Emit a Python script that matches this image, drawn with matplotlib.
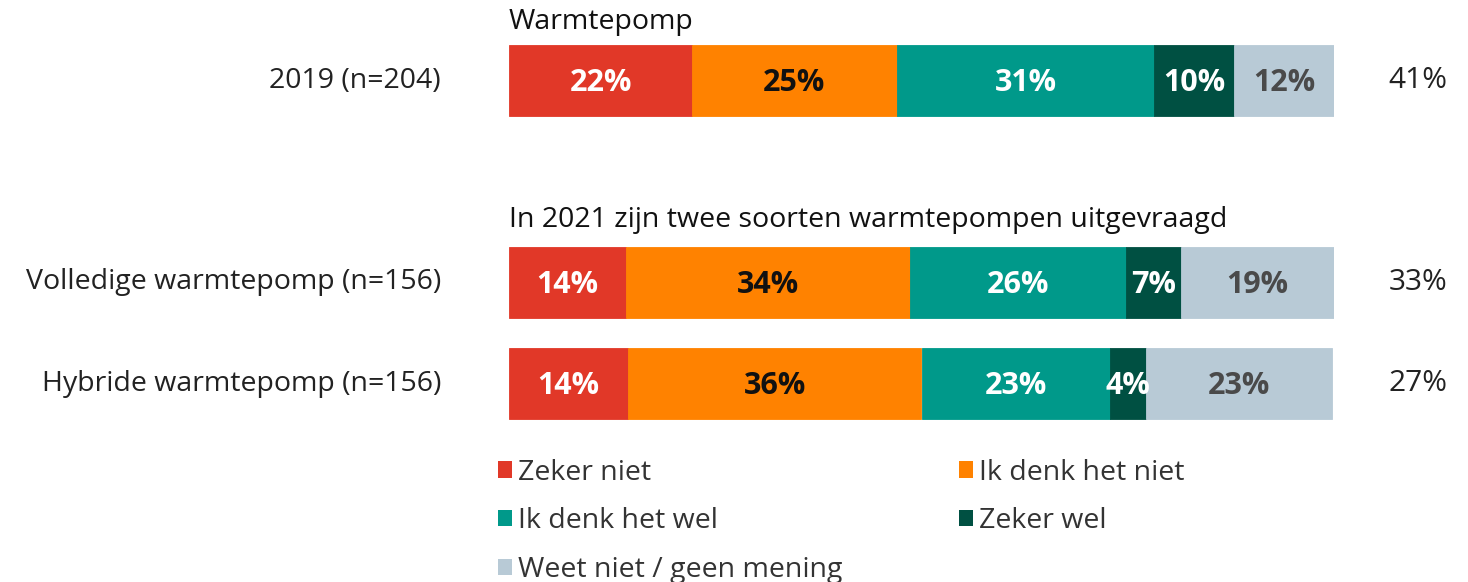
import matplotlib
matplotlib.use("Agg")
import matplotlib.pyplot as plt
from matplotlib.patches import Patch

plt.rcParams['font.family'] = ['Open Sans', 'DejaVu Sans']

rows = ["2019 (n=204)", "Volledige warmtepomp (n=156)", "Hybride warmtepomp (n=156)"]
categories = ["Zeker niet", "Ik denk het niet", "Ik denk het wel", "Zeker wel", "Weet niet / geen mening"]
zeker_niet = [22.2, 14.2, 14.4]
denk_niet = [24.8, 34.4, 35.6]
denk_wel = [31.2, 26.2, 22.8]
zeker_wel = [9.7, 6.6, 4.4]
weet_niet = [12.1, 18.7, 22.6]
totals = ["41%", "33%", "27%"]
titles = ["Warmtepomp", "In 2021 zijn twee soorten warmtepompen uitgevraagd"]

series = [zeker_niet, denk_niet, denk_wel, zeker_wel, weet_niet]
colors = ["#E13828", "#FF8200", "#00998A", "#005042", "#B8CAD6"]
text_colors = ["white", "#111111", "white", "white", "#4a4a4a"]

FS = 20.5
W, H = 1468, 582
fig = plt.figure(figsize=(W / 100, H / 100), dpi=100)
x0, x1 = 509, 1334
ax = fig.add_axes([x0 / W, 0, (x1 - x0) / W, 1])
unit = 101.0
ypos = [0, 2, 3]
ax.set_xlim(0, 100)
ax.set_ylim((H - 80.5) / unit, -80.5 / unit)
ax.axis("off")

bar_h = 71 / unit
lefts = [0, 0, 0]
for s, c, tc in zip(series, colors, text_colors):
    ax.barh(ypos, s, left=lefts, height=bar_h, color=c, edgecolor=c, linewidth=0.6)
    for y, v, l in zip(ypos, s, lefts):
        ax.text(l + v / 2, y + 0.02, f"{round(v)}%", ha="center", va="center", color=tc,
                fontsize=22, fontweight="bold")
    lefts = [a + b for a, b in zip(lefts, s)]

px = lambda p: (p - x0) / (x1 - x0) * 100
for y, lab, tot in zip(ypos, rows, totals):
    ax.text(px(441), y, lab, ha="right", va="center", fontsize=FS, color="#222222")
    ax.text(px(1447), y, tot, ha="right", va="center", fontsize=FS + 1, color="#222222")

ax.text(0, (22 - 80.5) / unit, titles[0], ha="left", va="center", fontsize=FS, color="#111111")
ax.text(0, (220 - 80.5) / unit, titles[1], ha="left", va="center", fontsize=FS, color="#111111")

order = [0, 2, 4, 1, 3]
handles = [Patch(facecolor=colors[i], edgecolor="none", label=categories[i]) for i in order]
leg = fig.legend(handles=handles, ncol=2, loc="upper left",
                 bbox_to_anchor=(472 / W, 1 - 433 / H), frameon=False,
                 fontsize=FS, handlelength=0.5, handleheight=0.5,
                 handletextpad=0.2, columnspacing=4.1, labelspacing=0.73,
                 labelcolor="#333333")

fig.savefig("out.png", dpi=100)
